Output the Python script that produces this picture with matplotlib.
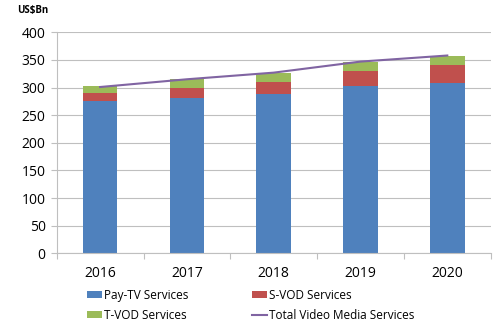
import numpy as np
import matplotlib
matplotlib.use("Agg")
import matplotlib.pyplot as plt

# Data (US$ billions)
years = ["2016", "2017", "2018", "2019", "2020"]
pay_tv = [276, 282, 288, 303, 309]
s_vod = [14, 18, 22, 27, 31]
t_vod = [12, 15, 17, 17, 18]
total = [301, 315, 327, 347, 358]

plt.rcParams['font.family'] = ['Open Sans', 'DejaVu Sans']

fig = plt.figure(figsize=(5.0, 3.28), dpi=100)
ax = fig.add_axes([0.1134, 0.2277, 0.868, 0.6738])

x = np.arange(len(years))
w = 0.4
pay_tv = np.array(pay_tv)
s_vod = np.array(s_vod)
t_vod = np.array(t_vod)

b1 = ax.bar(x, pay_tv, w, color='#4F81BD', label='Pay-TV Services', zorder=2)
b2 = ax.bar(x, s_vod, w, bottom=pay_tv, color='#C0504D', label='S-VOD Services', zorder=2)
b3 = ax.bar(x, t_vod, w, bottom=pay_tv + s_vod, color='#9BBB59', label='T-VOD Services', zorder=2)
l1, = ax.plot(x, total, color='#8064A2', lw=1.5, label='Total Video Media Services', zorder=3)

ax.set_xlim(-0.5, len(years) - 0.5)
ax.set_ylim(0, 400)
ax.set_yticks(np.arange(0, 401, 50))
ax.set_xticks(x)
ax.set_xticklabels(years)
ax.set_xticks(np.arange(-0.5, len(years), 1), minor=True)
ax.tick_params(axis='x', which='major', length=0, labelsize=10, pad=9)
ax.tick_params(axis='x', which='minor', length=4, color='#BFBFBF', width=0.8)
ax.tick_params(axis='y', length=4, color='#BFBFBF', width=0.8, labelsize=10, pad=4)

ax.grid(axis='y', color='#BFBFBF', lw=0.8, zorder=0)
for s in ['top', 'right']:
    ax.spines[s].set_visible(False)
for s in ['left', 'bottom']:
    ax.spines[s].set_color('#BFBFBF')
    ax.spines[s].set_linewidth(0.8)

fig.text(0.034, 0.968, 'US$Bn', fontsize=7, fontweight='bold', va='center')

fig.legend([b1, b3, b2, l1],
           ['Pay-TV Services', 'T-VOD Services', 'S-VOD Services', 'Total Video Media Services'],
           ncol=2, loc='upper left', bbox_to_anchor=(0.173, 0.12), frameon=False,
           fontsize=8.5, handlelength=1.3, handleheight=0.5, handletextpad=0.2,
           columnspacing=5.35, labelspacing=0.6, borderaxespad=0, borderpad=0)

fig.savefig('out.png', dpi=100)
